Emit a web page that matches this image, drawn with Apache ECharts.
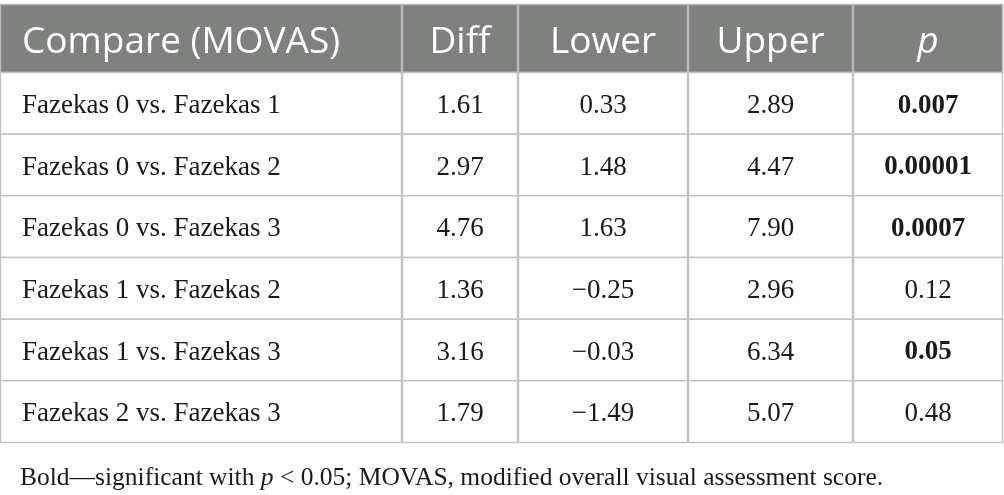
<!DOCTYPE html>
<html>
<head>
<meta charset="utf-8">
<script src="https://cdn.jsdelivr.net/npm/echarts@6/dist/echarts.min.js"></script>
<style>
  html, body { margin: 0; padding: 0; background: #fff; }
  #main { width: 1004px; height: 495px; }
</style>
</head>
<body>
<div id="main"></div>
<script>
// table data
var headers = ['Compare (MOVAS)', 'Diff', 'Lower', 'Upper', 'p'];
var comparisons = [
  'Fazekas 0 vs. Fazekas 1',
  'Fazekas 0 vs. Fazekas 2',
  'Fazekas 0 vs. Fazekas 3',
  'Fazekas 1 vs. Fazekas 2',
  'Fazekas 1 vs. Fazekas 3',
  'Fazekas 2 vs. Fazekas 3'
];
var diffs = ['1.61', '2.97', '4.76', '1.36', '3.16', '1.79'];
var lowers = ['0.33', '1.48', '1.63', '\u22120.25', '\u22120.03', '\u22121.49'];
var uppers = ['2.89', '4.47', '7.90', '2.96', '6.34', '5.07'];
var pValues = ['0.007', '0.00001', '0.0007', '0.12', '0.05', '0.48'];
var significant = [true, true, true, false, true, false];

// column edges on the x value axis (layout only)
var colEdges = [0, 402, 518, 688, 853, 1003];

var headerData = headers.map(function (h, c) { return [c, 0, h]; });
var bodyData = [];
comparisons.forEach(function (name, r) {
  var cols = [name, diffs[r], lowers[r], uppers[r], pValues[r]];
  cols.forEach(function (txt, c) {
    bodyData.push([c, r, txt, (c === 4 && significant[r]) ? 1 : 0]);
  });
});

function cellRender(isHeader) {
  return function (params, api) {
    var c = api.value(0), r = api.value(1);
    var src = isHeader ? headerData[params.dataIndex] : bodyData[params.dataIndex];
    var txt = src[2];
    var bold = !isHeader && src[3] === 1;
    var left = api.coord([colEdges[c], r]);
    var right = api.coord([colEdges[c + 1], r]);
    var h = api.size([0, 1])[1];
    var x0 = left[0], x1 = right[0], yc = left[1];
    var tx = c === 0 ? x0 + 22 : (x0 + x1) / 2;
    return {
      type: 'group',
      children: [{
        type: 'rect',
        shape: { x: x0 + 0.5, y: yc - h / 2 + 0.5, width: x1 - x0 - 1, height: h },
        style: {
          fill: isHeader ? '#7f817f' : '#fff',
          stroke: isHeader ? '#b8b8b8' : '#c4c4c4',
          lineWidth: 1.5
        }
      }, {
        type: 'text',
        x: tx,
        y: yc + (isHeader ? 4 : 3),
        style: {
          text: txt,
          fill: isHeader ? '#fff' : '#1a1a1a',
          fontFamily: isHeader ? 'Open Sans' : 'Liberation Serif',
          fontSize: isHeader ? 37 : 27,
          fontWeight: bold ? 'bold' : 'normal',
          fontStyle: (isHeader && c === 4) ? 'italic' : 'normal',
          align: c === 0 ? 'left' : 'center',
          verticalAlign: 'middle'
        }
      }]
    };
  };
}

var chart = echarts.init(document.getElementById('main'));
chart.setOption({
  animation: false,
  title: {
    left: 15,
    top: 460,
    text: '{a|Bold\u2014significant with }{i|p}{a| < 0.05; MOVAS, modified overall visual assessment score.}',
    textStyle: {
      fontWeight: 'normal',
      rich: {
        a: { fontFamily: 'Liberation Serif', fontSize: 25.5, fontWeight: 'normal', color: '#1a1a1a' },
        i: { fontFamily: 'Liberation Serif', fontSize: 25.5, fontWeight: 'normal', color: '#1a1a1a', fontStyle: 'italic' }
      }
    }
  },
  grid: [
    { left: 0, right: 1, top: 4, height: 68 },
    { left: 0, right: 1, top: 72, height: 370 }
  ],
  xAxis: [
    { type: 'value', gridIndex: 0, min: 0, max: 1003, show: false },
    { type: 'value', gridIndex: 1, min: 0, max: 1003, show: false }
  ],
  yAxis: [
    { type: 'category', gridIndex: 0, data: ['header'], inverse: true, show: false },
    { type: 'category', gridIndex: 1, data: comparisons, inverse: true, show: false }
  ],
  series: [{
    type: 'custom',
    xAxisIndex: 0,
    yAxisIndex: 0,
    renderItem: cellRender(true),
    data: headerData.map(function (d) { return [d[0], d[1]]; })
  }, {
    type: 'custom',
    xAxisIndex: 1,
    yAxisIndex: 1,
    renderItem: cellRender(false),
    data: bodyData.map(function (d) { return [d[0], d[1]]; })
  }]
});
</script>
</body>
</html>
